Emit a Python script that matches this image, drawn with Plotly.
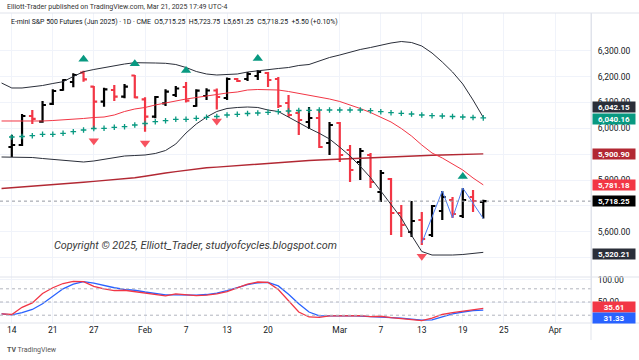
import pandas as pd
import plotly.graph_objects as go

# ---------------- calendar (trading sessions, CME holidays removed) ----------------
sessions = [d.strftime("%Y-%m-%d") for d in pd.bdate_range("2025-01-13", "2025-04-01")
            if d.strftime("%Y-%m-%d") not in ("2025-01-20", "2025-02-17")]
pos = {d: i - 1 for i, d in enumerate(sessions)}

bar_dates = sessions[1:48]     # Jan 14 .. Mar 21
line_dates = sessions[0:48]    # Jan 13 .. Mar 21

# ---------------- daily OHLC ----------------
opens = [5927.6, 5935.4, 6047.5, 6025.5, 6094.0, 6148.0, 6179.0, 6214.9, 6160.8, 6102.8,
         6148.0, 6122.1, 6204.1, 6112.1, 6044.8, 6096.6, 6128.7, 6159.6, 6086.2, 6124.8,
         6146.1, 6117.1, 6190.6, 6190.6, 6202.2, 6213.8, 6190.6, 6097.8, 6059.1, 6024.3,
         6039.8, 5943.1, 6020.4, 5916.0, 5869.6, 5896.7, 5753.6, 5803.9, 5672.4, 5599.0,
         5645.4, 5587.4, 5680.2, 5722.7, 5660.8, 5734.3, 5715.25]
highs = [5974.1, 6055.2, 6070.7, 6105.5, 6150.7, 6189.4, 6212.6, 6222.7, 6163.5, 6156.9,
         6167.4, 6171.2, 6206.0, 6119.8, 6124.8, 6150.7, 6163.5, 6179.0, 6150.7, 6154.6,
         6153.8, 6196.4, 6194.4, 6217.6, 6225.4, 6217.6, 6198.3, 6128.7, 6070.7, 6082.3,
         6070.7, 6024.3, 6024.3, 5935.4, 5923.7, 5904.4, 5838.7, 5807.8, 5703.4, 5718.8,
         5676.3, 5703.4, 5757.5, 5734.3, 5769.1, 5761.4, 5723.75]
lows = [5888.9, 5931.5, 6016.6, 6021.6, 6090.1, 6145.3, 6158.5, 6180.1, 5996.1, 6083.5,
        6105.5, 6115.9, 6115.9, 5986.8, 6038.6, 6086.2, 6121.0, 6099.7, 6083.5, 6109.4,
        6072.6, 6109.4, 6179.0, 6182.8, 6186.7, 6159.6, 6078.4, 6043.6, 5974.1, 5997.1,
        5923.7, 5896.7, 5869.6, 5792.3, 5800.0, 5769.1, 5715.0, 5587.4, 5579.6, 5579.6,
        5548.7, 5579.6, 5645.4, 5653.1, 5653.1, 5676.3, 5651.25]
closes = [5935.4, 6047.5, 6036.0, 6090.1, 6144.1, 6186.7, 6206.0, 6189.4, 6102.8, 6150.7,
          6122.1, 6160.8, 6119.8, 6044.8, 6121.0, 6141.5, 6153.8, 6106.6, 6145.3, 6146.1,
          6121.0, 6190.6, 6182.8, 6209.9, 6217.6, 6186.7, 6086.2, 6051.4, 6032.1, 6039.8,
          5927.6, 6012.7, 5896.7, 5838.7, 5912.2, 5792.3, 5827.1, 5672.4, 5626.4, 5641.5,
          5571.9, 5699.5, 5734.3, 5668.6, 5722.7, 5718.8, 5718.25]

# ---------------- indicators ----------------
bb_upper = [6175.1, 6155.8, 6155.8, 6159.6, 6165.4, 6173.2, 6180.1, 6200.2, 6218.8, 6227.3,
            6235.0, 6240.8, 6248.6, 6253.6, 6254.4, 6252.4, 6251.3, 6246.6, 6235.0, 6219.6,
            6209.9, 6206.0, 6208.0, 6209.9, 6217.6, 6222.7, 6227.3, 6231.2, 6235.0, 6242.8,
            6246.6, 6260.2, 6273.7, 6283.4, 6295.0, 6304.7, 6312.4, 6322.1, 6329.8, 6335.6,
            6331.7, 6318.2, 6291.1, 6256.3, 6217.6, 6171.2, 6109.4, 6042.15]
bb_lower = [5888.9, 5888.9, 5887.8, 5887.0, 5883.1, 5879.3, 5875.4, 5871.5, 5869.6, 5873.5,
            5879.3, 5887.0, 5892.8, 5894.7, 5896.7, 5902.5, 5914.1, 5939.2, 5981.8, 6016.6,
            6043.6, 6064.9, 6076.5, 6080.4, 6082.3, 6080.4, 6070.7, 6064.9, 6043.6, 6019.2,
            6000.0, 5980.6, 5958.6, 5926.8, 5893.1, 5853.0, 5809.3, 5757.5, 5706.0, 5653.1,
            5586.0, 5523.5, 5509.9, 5509.2, 5509.9, 5511.9, 5515.0, 5520.21]
bb_basis = [6028.2, 6028.2, 6026.2, 6025.5, 6028.2, 6030.1, 6032.1, 6035.9, 6037.9, 6041.7,
            6043.6, 6051.4, 6064.9, 6074.6, 6080.4, 6090.1, 6097.8, 6107.5, 6113.2, 6119.0,
            6124.8, 6131.8, 6136.4, 6140.3, 6148.0, 6150.0, 6150.0, 6148.0, 6142.2, 6135.3,
            6126.7, 6119.0, 6113.2, 6103.6, 6091.2, 6076.5, 6061.0, 6043.6, 6024.3, 5999.2,
            5970.1, 5935.4, 5904.4, 5885.1, 5861.9, 5838.7, 5807.8, 5781.18]
ma_long = [5767.1, 5769.8, 5772.9, 5776.0, 5779.1, 5782.2, 5785.3, 5788.4, 5791.5, 5794.6,
           5797.7, 5800.8, 5803.9, 5808.5, 5814.3, 5821.7, 5827.1, 5832.5, 5837.9, 5843.3,
           5847.2, 5849.9, 5853.0, 5855.7, 5858.8, 5861.5, 5864.6, 5867.3, 5870.4, 5873.1,
           5875.4, 5877.4, 5879.3, 5881.3, 5883.2, 5885.1, 5887.1, 5889.0, 5891.0, 5892.9,
           5894.0, 5895.2, 5896.0, 5896.8, 5897.9, 5898.7, 5899.8, 5900.90]
ma_cross = [5966.3, 5968.2, 5971.3, 5976.7, 5976.7, 5980.6, 5986.8, 5993.4, 5999.2, 6000.0,
            6003.8, 6006.1, 6012.7, 6018.5, 6025.5, 6029.3, 6034.7, 6034.7, 6038.6, 6042.5,
            6045.6, 6051.4, 6054.1, 6057.2, 6059.1, 6061.8, 6064.1, 6066.8, 6068.8, 6069.5,
            6070.7, 6070.7, 6070.7, 6070.7, 6070.7, 6068.0, 6064.1, 6060.3, 6057.9, 6055.2,
            6051.4, 6048.6, 6047.5, 6045.6, 6043.6, 6041.7, 6040.16]

stoch_k = [23.0, 21.6, 38.0, 48.0, 69.5, 82.4, 92.0, 97.0, 96.2, 85.6, 80.0, 76.0, 76.7,
           73.5, 70.3, 67.8, 63.8, 68.6, 66.0, 64.6, 65.4, 68.6, 73.5, 81.6, 90.5, 95.4,
           94.6, 78.4, 51.6, 27.3, 16.0, 15.2, 18.4, 18.4, 17.6, 19.2, 16.8, 17.6, 14.4,
           12.0, 9.5, 7.9, 13.6, 21.6, 25.7, 29.0, 31.4, 35.61]
stoch_d = [23.0, 20.8, 25.7, 33.0, 46.0, 63.8, 80.0, 90.5, 96.2, 93.0, 87.3, 82.4, 78.4,
           76.7, 72.7, 69.5, 66.2, 66.2, 65.4, 65.4, 67.0, 70.3, 75.9, 83.2, 89.7, 93.7,
           94.6, 86.5, 67.8, 46.0, 27.3, 18.4, 17.6, 18.4, 19.2, 18.4, 17.6, 16.8, 15.2,
           13.6, 11.1, 8.7, 9.5, 16.8, 23.3, 27.3, 30.6, 31.33]

buy_dates = ["2025-01-24", "2025-01-31", "2025-02-07", "2025-02-19", "2025-03-19"]
sell_dates = ["2025-01-27", "2025-02-03", "2025-02-12", "2025-03-13"]
zig_dates = ["2025-03-13", "2025-03-17", "2025-03-18", "2025-03-19", "2025-03-21"]
zig_values = [5556.0, 5757.5, 5653.1, 5769.1, 5651.25]

tick_dates = ["2025-01-14", "2025-01-21", "2025-01-27", "2025-02-03", "2025-02-07", "2025-02-13",
              "2025-02-20", "2025-03-03", "2025-03-07", "2025-03-13", "2025-03-19", "2025-03-25",
              "2025-04-01"]
tick_text = ["14", "21", "27", "Feb", "7", "13", "20", "Mar", "7", "13", "19", "25", "Apr"]
price_ticks = [5500, 5600, 5700, 5800, 5900, 6000, 6100, 6200, 6300]
# tick labels that the price tags fully cover in the reference are left blank
price_tick_text = ["", "5,600.00", "", "5,800.00", "", "6,000.00", "6,100.00", "6,200.00", "6,300.00"]

# ---------------- figure ----------------
FONT = "Roboto, 'Liberation Sans', sans-serif"
xb = [pos[d] for d in bar_dates]
xl = [pos[d] for d in line_dates]
hi_by_date = dict(zip(bar_dates, highs))
lo_by_date = dict(zip(bar_dates, lows))
SIG_OFF = 44

fig = go.Figure()
fig.add_trace(go.Scatter(x=xl, y=ma_long, mode="lines", line=dict(color="#b22833", width=1.4),
                         hoverinfo="skip"))
fig.add_trace(go.Scatter(x=xl, y=bb_upper, mode="lines", line=dict(color="#2a2e39", width=1),
                         hoverinfo="skip"))
fig.add_trace(go.Scatter(x=xl, y=bb_lower, mode="lines", line=dict(color="#2a2e39", width=1),
                         hoverinfo="skip"))
fig.add_trace(go.Scatter(x=xl, y=bb_basis, mode="lines", line=dict(color="#f23645", width=1),
                         hoverinfo="skip"))
fig.add_trace(go.Scatter(x=xb, y=ma_cross, mode="markers",
                         marker=dict(symbol="cross-thin", size=4, line=dict(color="#089981", width=1.3)),
                         hoverinfo="skip"))
fig.add_trace(go.Ohlc(x=xb, open=opens, high=highs, low=lows, close=closes, tickwidth=0.33,
                      increasing=dict(line=dict(color="#000000", width=2.2)),
                      decreasing=dict(line=dict(color="#f23645", width=2.2)),
                      hoverinfo="skip"))
fig.add_trace(go.Scatter(x=[pos[d] for d in zig_dates], y=zig_values, mode="lines",
                         line=dict(color="#4c7cf3", width=1), hoverinfo="skip"))
fig.add_trace(go.Scatter(x=[pos[d] for d in buy_dates], y=[hi_by_date[d] + SIG_OFF for d in buy_dates],
                         mode="markers", marker=dict(symbol="triangle-up", size=9, color="#089981"),
                         hoverinfo="skip"))
fig.add_trace(go.Scatter(x=[pos[d] for d in sell_dates], y=[lo_by_date[d] - SIG_OFF for d in sell_dates],
                         mode="markers", marker=dict(symbol="triangle-down", size=9, color="#f7525f"),
                         hoverinfo="skip"))
# oscillator
fig.add_trace(go.Scatter(x=xl, y=stoch_d, mode="lines", line=dict(color="#2962ff", width=1.3),
                         xaxis="x2", yaxis="y2", hoverinfo="skip"))
fig.add_trace(go.Scatter(x=xl, y=stoch_k, mode="lines", line=dict(color="#f23645", width=1.3),
                         xaxis="x2", yaxis="y2", hoverinfo="skip"))

# geometry
PLOT_TOP, PLOT_BOT, SEP, RIGHT = 13, 323, 277, 591
H = PLOT_BOT - PLOT_TOP
osc_top = (PLOT_BOT - SEP) / H


def py(y):
    return (PLOT_BOT - y) / H


xr = [-1.151, 56.51]
xtv = [pos[d] for d in tick_dates]
grid = "#f0f3fa"

fig.update_layout(
    width=639, height=360,
    margin=dict(l=0, r=639 - RIGHT, t=PLOT_TOP, b=360 - PLOT_BOT, autoexpand=False),
    paper_bgcolor="white", plot_bgcolor="white", showlegend=False,
    font=dict(family=FONT, color="#131722"),
    xaxis=dict(domain=[0, 1], range=xr, anchor="y", tickvals=xtv, showticklabels=False,
               showgrid=True, gridcolor=grid, zeroline=False, ticks="",
               rangeslider=dict(visible=False)),
    xaxis2=dict(domain=[0, 1], range=xr, anchor="y2", matches="x", tickvals=xtv, ticktext=tick_text,
                showgrid=True, gridcolor=grid, zeroline=False, ticks="",
                tickfont=dict(size=8.5, color="#131722")),
    yaxis=dict(domain=[osc_top, 1], range=[5424.9, 6445.8], side="right", tickvals=price_ticks,
               ticktext=price_tick_text, showgrid=True, gridcolor=grid, zeroline=False, ticks="",
               showline=True, linecolor="#e0e3eb", linewidth=1, ticklabelstandoff=4,
               tickfont=dict(size=8.5, color="#131722")),
    yaxis2=dict(domain=[0, osc_top], range=[2.3, 106.8], side="right", tickvals=[50, 100],
                tickformat=".2f", showgrid=True, gridcolor=grid, zeroline=False, ticks="",
                showline=True, linecolor="#e0e3eb", linewidth=1, ticklabelstandoff=4,
                tickfont=dict(size=8.5, color="#131722")),
)

shapes = []
for lvl in (80, 50, 20):
    shapes.append(dict(type="line", xref="paper", x0=0, x1=1, yref="y2", y0=lvl, y1=lvl,
                       line=dict(color="#b2b5be", width=1, dash="dot")))
shapes.append(dict(type="line", xref="paper", x0=0, x1=1, yref="y", y0=closes[-1], y1=closes[-1],
                   line=dict(color="#9598a1", width=1, dash="dot")))
for yy in (SEP, PLOT_BOT, PLOT_TOP):
    shapes.append(dict(type="line", xref="paper", x0=0, x1=639 / RIGHT, yref="paper", y0=py(yy), y1=py(yy),
                       line=dict(color="#e0e3eb", width=1)))
shapes.append(dict(type="line", xref="paper", x0=1, x1=1, yref="paper", y0=py(340), y1=1,
                   line=dict(color="#e0e3eb", width=1)))
fig.update_layout(shapes=shapes)

ann = []
labels = [  # value, axis, bg, yshift
    (bb_upper[-1], "y", "#2a2e39", 10),
    (ma_cross[-1], "y", "#089981", -1),
    (ma_long[-1], "y", "#b22833", 0),
    (bb_basis[-1], "y", "#f23645", 0),
    (closes[-1], "y", "#000000", 0),
    (bb_lower[-1], "y", "#2a2e39", -2),
    (stoch_k[-1], "y2", "#f23645", 1.5),
    (stoch_d[-1], "y2", "#2962ff", -8),
]
for v, ax, bg, ys in labels:
    ann.append(dict(xref="paper", x=1, xanchor="left", xshift=1, yref=ax, y=v, yshift=ys,
                    text="<b>{:,.2f}</b>".format(v), showarrow=False, bgcolor=bg, width=42, height=10,
                    borderpad=0, align="center", font=dict(size=8, color="white", family=FONT)))

ann.append(dict(xref="paper", yref="paper", x=5 / RIGHT, y=py(7), xanchor="left", yanchor="middle",
                text="Elliott-Trader published on TradingView.com, Mar 21, 2025 17:49 UTC-4",
                showarrow=False, font=dict(size=7, color="#333333")))
ann.append(dict(xref="paper", yref="paper", x=9 / RIGHT, y=py(21.5), xanchor="left", yanchor="middle",
                text="E-mini S&amp;P 500 Futures (Jun 2025) · 1D · CME  O5,715.25  H5,723.75  L5,651.25  "
                     "C5,718.25  +5.50 (+0.10%)",
                showarrow=False, font=dict(size=6.9, color="#131722")))
ann.append(dict(xref="paper", yref="paper", x=52 / RIGHT, y=py(245), xanchor="left", yanchor="middle",
                text="<i>Copyright © 2025, Elliott_Trader, studyofcycles.blogspot.com</i>",
                showarrow=False, font=dict(size=10.8, color="#3a3a3a")))
ann.append(dict(xref="paper", yref="paper", x=5 / RIGHT, y=py(350), xanchor="left", yanchor="middle",
                text="<b>TV</b> TradingView", showarrow=False, font=dict(size=7, color="#555555")))
fig.update_layout(annotations=ann)

fig.write_html("out.html", config={"displayModeBar": False},
               post_script="document.body.style.margin='0px';")
